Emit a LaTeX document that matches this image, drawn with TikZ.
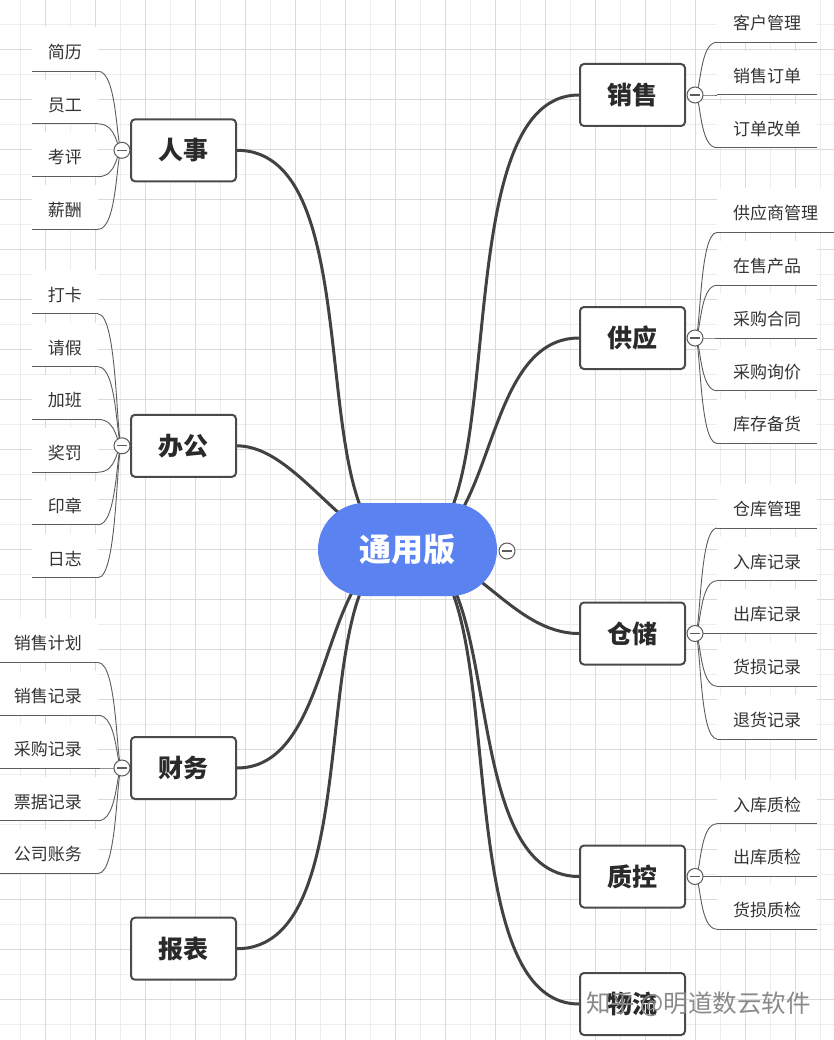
\documentclass[tikz,border=0pt]{standalone}
\usepackage{fontspec}
\setmainfont{Noto Sans CJK SC}
\usetikzlibrary{calc}
\pgfdeclarelayer{gridlayer}
\pgfdeclarelayer{edgelayer}
\pgfsetlayers{gridlayer,edgelayer,main}
\definecolor{rootblue}{HTML}{5A82F0}
\definecolor{gridminor}{HTML}{EDEDED}
\definecolor{gridmajor}{HTML}{DADADA}
\definecolor{edgegray}{HTML}{424242}
\definecolor{leafline}{HTML}{5C5C5C}
\definecolor{boxborder}{HTML}{4A4A4A}
\definecolor{txt}{HTML}{333333}
\definecolor{branchtxt}{HTML}{2A2A2A}
\definecolor{wmgray}{HTML}{8A8A8A}
\begin{document}
\begin{tikzpicture}[x=1pt,y=-1pt,
 rootnode/.style={rectangle, rounded corners=46.5pt, fill=rootblue, minimum width=179pt, minimum height=93pt, text=white, font=\bfseries\fontsize{32}{36}\selectfont, inner sep=0pt},
 branch/.style={rectangle, rounded corners=4pt, draw=boxborder, line width=2pt, fill=white, minimum width=105pt, minimum height=62pt, text=branchtxt, font=\bfseries\fontsize{25}{28}\selectfont, inner sep=0pt},
 leafbase/.style={rectangle, fill=white, inner xsep=16pt, inner ysep=6pt, text height=25.5pt, text depth=6.5pt, text=txt, font=\fontsize{17}{20}\selectfont},
 leafR/.style={leafbase, anchor=south west},
 leafL/.style={leafbase, anchor=south east},
 collapser/.style={circle, draw=leafline, line width=1pt, fill=white, minimum size=16pt, inner sep=0pt, path picture={\draw[leafline, line width=1.2pt] ([xshift=-5pt]path picture bounding box.center) -- ([xshift=5pt]path picture bounding box.center);}},
 mainedge/.style={draw=edgegray, line width=3pt, line cap=round},
 leafedge/.style={draw=leafline, line width=0.9pt},
 underline/.style={draw=leafline, line width=1pt},
]
\useasboundingbox (0,0) rectangle (834,1040);

\begin{pgfonlayer}{gridlayer}
\fill[white] (0,0) rectangle (834,1040);
\foreach \m in {0,...,16} \draw[gridminor, line width=1pt] (20.7+50*\m,0) -- (20.7+50*\m,1040);
\foreach \m in {0,...,20} \draw[gridminor, line width=1pt] (0,24.3+50*\m) -- (834,24.3+50*\m);
\foreach \m in {0,...,15} \draw[gridmajor, line width=1pt] (45.7+50*\m,0) -- (45.7+50*\m,1040);
\foreach \m in {1,...,20} \draw[gridmajor, line width=1pt] (0,-0.7+50*\m) -- (834,-0.7+50*\m);
\end{pgfonlayer}

% root
\node[rootnode] (root) at (407.5,549.5) {通用版};

% branches
\node[branch] (xs) at (632.5,95) {销售};
\node[branch] (gy) at (632.5,338) {供应};
\node[branch] (cc) at (632.5,633.5) {仓储};
\node[branch] (zk) at (632.5,876.5) {质控};
\node[branch] (wl) at (632.5,1004) {物流};
\node[branch] (rs) at (183.5,150.3) {人事};
\node[branch] (bg) at (183.5,445.8) {办公};
\node[branch] (cw) at (183.5,768) {财务};
\node[branch] (bb) at (183.5,948.7) {报表};

% leaves right
\node[leafR] (xs1) at (717,42.25) {客户管理};
\node[leafR] (xs2) at (717,95) {销售订单};
\node[leafR] (xs3) at (717,147.75) {订单改单};

\node[leafR] (gy1) at (717,232.5) {供应商管理};
\node[leafR] (gy2) at (717,285.25) {在售产品};
\node[leafR] (gy3) at (717,338) {采购合同};
\node[leafR] (gy4) at (717,390.75) {采购询价};
\node[leafR] (gy5) at (717,443.5) {库存备货};

\node[leafR] (cc1) at (717,528) {仓库管理};
\node[leafR] (cc2) at (717,580.75) {入库记录};
\node[leafR] (cc3) at (717,633.5) {出库记录};
\node[leafR] (cc4) at (717,686.25) {货损记录};
\node[leafR] (cc5) at (717,739) {退货记录};

\node[leafR] (zk1) at (717,823.75) {入库质检};
\node[leafR] (zk2) at (717,876.5) {出库质检};
\node[leafR] (zk3) at (717,929.25) {货损质检};

% leaves left
\node[leafL] (rs1) at (98,71.2) {简历};
\node[leafL] (rs2) at (98,123.9) {员工};
\node[leafL] (rs3) at (98,176.7) {考评};
\node[leafL] (rs4) at (98,229.4) {薪酬};

\node[leafL] (bg1) at (98,313.9) {打卡};
\node[leafL] (bg2) at (98,366.7) {请假};
\node[leafL] (bg3) at (98,419.4) {加班};
\node[leafL] (bg4) at (98,472.2) {奖罚};
\node[leafL] (bg5) at (98,524.9) {印章};
\node[leafL] (bg6) at (98,577.7) {日志};

\node[leafL] (cw1) at (98,662.5) {销售计划};
\node[leafL] (cw2) at (98,715.25) {销售记录};
\node[leafL] (cw3) at (98,768) {采购记录};
\node[leafL] (cw4) at (98,820.75) {票据记录};
\node[leafL] (cw5) at (98,873.5) {公司账务};

% collapse buttons
\node[collapser] (rootc) at (507,551) {};
\node[collapser] (xsc) at (695,95) {};
\node[collapser] (gyc) at (695,338) {};
\node[collapser] (ccc) at (695,633.5) {};
\node[collapser] (zkc) at (695,876.5) {};
\node[collapser] (rsc) at (122,150.3) {};
\node[collapser] (bgc) at (122,445.8) {};
\node[collapser] (cwc) at (122,768) {};

% underlines
\foreach \n in {xs1,xs2,xs3,gy1,gy2,gy3,gy4,gy5,cc1,cc2,cc3,cc4,cc5,zk1,zk2,zk3,rs1,rs2,rs3,rs4,bg1,bg2,bg3,bg4,bg5,bg6,cw1,cw2,cw3,cw4,cw5}
  \draw[underline] (\n.south west) -- (\n.south east);

\begin{pgfonlayer}{edgelayer}
\draw[mainedge] (root.center) .. controls +(110,0) and +(-140,0) .. (xs.west);
\draw[mainedge] (root.center) .. controls +(90,0) and +(-100,0) .. (gy.west);
\draw[mainedge] (root.center) .. controls +(67,0) and +(-67,0) .. (cc.west);
\draw[mainedge] (root.center) .. controls +(100,0) and +(-125,0) .. (zk.west);
\draw[mainedge] (root.center) .. controls +(110,0) and +(-140,0) .. (wl.west);
\draw[mainedge] (root.center) .. controls +(-110,0) and +(140,0) .. (rs.east);
\draw[mainedge] (root.center) .. controls +(-60,0) and +(60,0) .. (bg.east);
\draw[mainedge] (root.center) .. controls +(-90,0) and +(100,0) .. (cw.east);
\draw[mainedge] (root.center) .. controls +(-110,0) and +(140,0) .. (bb.east);
\foreach \n in {xs1,xs2,xs3} \draw[leafedge] (xsc.center) .. controls +(6,0) and +(-18,0) .. (\n.south west);
\foreach \n in {gy1,gy2,gy3,gy4,gy5} \draw[leafedge] (gyc.center) .. controls +(6,0) and +(-18,0) .. (\n.south west);
\foreach \n in {cc1,cc2,cc3,cc4,cc5} \draw[leafedge] (ccc.center) .. controls +(6,0) and +(-18,0) .. (\n.south west);
\foreach \n in {zk1,zk2,zk3} \draw[leafedge] (zkc.center) .. controls +(6,0) and +(-18,0) .. (\n.south west);
\foreach \n in {rs1,rs2,rs3,rs4} \draw[leafedge] (rsc.center) .. controls +(-6,0) and +(20,0) .. (\n.south east);
\foreach \n in {bg1,bg2,bg3,bg4,bg5,bg6} \draw[leafedge] (bgc.center) .. controls +(-6,0) and +(20,0) .. (\n.south east);
\foreach \n in {cw1,cw2,cw3,cw4,cw5} \draw[leafedge] (cwc.center) .. controls +(-6,0) and +(20,0) .. (\n.south east);
\end{pgfonlayer}

% watermark
\node[font=\fontsize{24.5}{27}\selectfont, text=wmgray] (wm) at (698.5,1004) {知乎 @明道数云软件};
\end{tikzpicture}
\end{document}
